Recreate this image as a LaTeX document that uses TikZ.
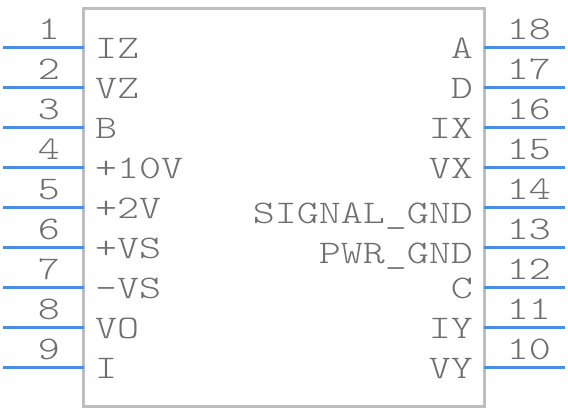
\documentclass[tikz,border=0pt]{standalone}
\usepackage{fontspec}
\newfontfamily\pinfont[FakeStretch=1.27]{lmmonolt10-regular.otf}
\usetikzlibrary{positioning}

\definecolor{pinblue}{HTML}{4A8CE6}
\definecolor{bodygray}{HTML}{BEBEBE}
\definecolor{textgray}{HTML}{6E6E6E}

\tikzset{
  chip/.style={draw=bodygray, line width=3bp, minimum width=400bp, minimum height=398bp, inner sep=0pt},
  pin/.style={draw=pinblue, line width=3bp},
  pintext/.style={font=\fontsize{33bp}{38bp}\pinfont, text=textgray, inner sep=0pt},
  pinnum/.style={pintext, anchor=base east},
  leftlbl/.style={pintext, anchor=base west},
  rightlbl/.style={pintext, anchor=base east}
}

\begin{document}
\begin{tikzpicture}[x=1bp, y=-1bp]
  \useasboundingbox (0,0) rectangle (568,412);

  % Body
  \node[chip] (ic) at (284,207) {};

  % Left pins
  \coordinate (p1) at (3,47);    \coordinate (e1) at (84,47);
  \coordinate (p2) at (3,87);    \coordinate (e2) at (84,87);
  \coordinate (p3) at (3,127);   \coordinate (e3) at (84,127);
  \coordinate (p4) at (3,167);   \coordinate (e4) at (84,167);
  \coordinate (p5) at (3,207);   \coordinate (e5) at (84,207);
  \coordinate (p6) at (3,247);   \coordinate (e6) at (84,247);
  \coordinate (p7) at (3,287);   \coordinate (e7) at (84,287);
  \coordinate (p8) at (3,327);   \coordinate (e8) at (84,327);
  \coordinate (p9) at (3,367);   \coordinate (e9) at (84,367);

  % Right pins
  \coordinate (p18) at (565,47);   \coordinate (e18) at (484,47);
  \coordinate (p17) at (565,87);   \coordinate (e17) at (484,87);
  \coordinate (p16) at (565,127);  \coordinate (e16) at (484,127);
  \coordinate (p15) at (565,167);  \coordinate (e15) at (484,167);
  \coordinate (p14) at (565,207);  \coordinate (e14) at (484,207);
  \coordinate (p13) at (565,247);  \coordinate (e13) at (484,247);
  \coordinate (p12) at (565,287);  \coordinate (e12) at (484,287);
  \coordinate (p11) at (565,327);  \coordinate (e11) at (484,327);
  \coordinate (p10) at (565,367);  \coordinate (e10) at (484,367);

  \draw[pin] (p1) -- (e1);   \draw[pin] (p2) -- (e2);   \draw[pin] (p3) -- (e3);
  \draw[pin] (p4) -- (e4);   \draw[pin] (p5) -- (e5);   \draw[pin] (p6) -- (e6);
  \draw[pin] (p7) -- (e7);   \draw[pin] (p8) -- (e8);   \draw[pin] (p9) -- (e9);
  \draw[pin] (p18) -- (e18); \draw[pin] (p17) -- (e17); \draw[pin] (p16) -- (e16);
  \draw[pin] (p15) -- (e15); \draw[pin] (p14) -- (e14); \draw[pin] (p13) -- (e13);
  \draw[pin] (p12) -- (e12); \draw[pin] (p11) -- (e11); \draw[pin] (p10) -- (e10);

  % Pin numbers
  \node[pinnum] (n1) at (60,39)  {1};
  \node[pinnum] (n2) at (60,79)  {2};
  \node[pinnum] (n3) at (60,119) {3};
  \node[pinnum] (n4) at (60,159) {4};
  \node[pinnum] (n5) at (60,199) {5};
  \node[pinnum] (n6) at (60,239) {6};
  \node[pinnum] (n7) at (60,279) {7};
  \node[pinnum] (n8) at (60,319) {8};
  \node[pinnum] (n9) at (60,359) {9};

  \node[pinnum] (n18) at (551,39)  {18};
  \node[pinnum] (n17) at (551,79)  {17};
  \node[pinnum] (n16) at (551,119) {16};
  \node[pinnum] (n15) at (551,159) {15};
  \node[pinnum] (n14) at (551,199) {14};
  \node[pinnum] (n13) at (551,239) {13};
  \node[pinnum] (n12) at (551,279) {12};
  \node[pinnum] (n11) at (551,319) {11};
  \node[pinnum] (n10) at (551,359) {10};

  % Pin labels
  \node[leftlbl] (l1) at (95,58)  {IZ};
  \node[leftlbl] (l2) at (95,98)  {VZ};
  \node[leftlbl] (l3) at (95,138) {B};
  \node[leftlbl] (l4) at (95,178) {+10V};
  \node[leftlbl] (l5) at (95,218) {+2V};
  \node[leftlbl] (l6) at (95,258) {+VS};
  \node[leftlbl] (l7) at (95,298) {-VS};
  \node[leftlbl] (l8) at (95,338) {VO};
  \node[leftlbl] (l9) at (95,378) {I};

  \node[rightlbl] (l18) at (473,58)  {A};
  \node[rightlbl] (l17) at (473,98)  {D};
  \node[rightlbl] (l16) at (473,138) {IX};
  \node[rightlbl] (l15) at (473,178) {VX};
  \node[rightlbl] (l14) at (473,223) {SIGNAL\_GND};
  \node[rightlbl] (l13) at (473,263) {PWR\_GND};
  \node[rightlbl] (l12) at (473,298) {C};
  \node[rightlbl] (l11) at (473,338) {IY};
  \node[rightlbl] (l10) at (473,378) {VY};
\end{tikzpicture}
\end{document}
